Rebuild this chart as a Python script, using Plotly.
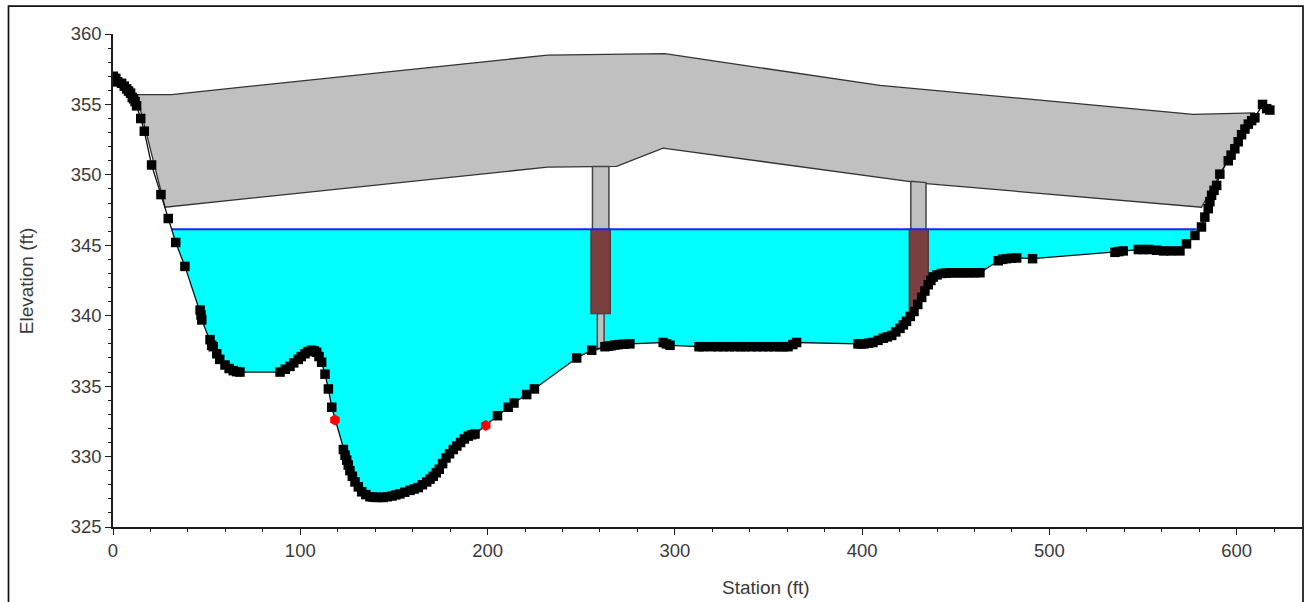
import plotly.graph_objects as go

ground_x = [0.2, 1.5, 2.5, 4.6, 6, 7.3, 8.3, 9.4, 10.3, 11, 11.8, 12.6, 14.8, 16.7, 20.6, 25.6, 29.5, 33.5, 38.4,
            46.5, 47, 47.4, 51.8, 52.7, 53.5, 55.4, 57, 59.8, 62, 64.2, 66, 67.8,
            89.2, 92, 94.5, 96.5, 98.9, 100.5, 102.5, 104, 106, 107.5, 108.8, 110, 111.4, 113.2, 115, 116.8,
            123, 123.9, 124.8, 125.6, 126.5, 127.8, 129.2, 131, 132.8, 135, 137.2, 139, 140.5, 142.4, 144.3, 146.5, 149,
            151, 153.2, 155.8, 158.6, 160.8, 163, 165.2, 167.5, 169.3, 171, 172.6, 174.2, 176, 177.8, 179.7, 181.7,
            183.6, 185.6, 187.6, 189.7, 191.5, 193.3, 205.3, 211, 214.1, 220.9, 225, 247.6, 255.6, 262.7, 264.5, 266, 268, 269.8, 273, 276,
            293.8, 295.5, 297.4, 312.9, 315, 319.6, 323, 326, 329, 332, 335.3, 337.5, 341, 344, 347, 350, 353, 356, 358, 360.4,
            363, 365, 397.8, 399.5, 401, 403.4, 405.8, 408.5, 411.3, 413.5, 415.8, 418, 420.2, 422, 423.7, 425.7, 427.7, 429.7, 431.8,
            433.5, 435.3, 436.7, 438, 440, 442.4, 445, 447.5, 450, 452.5, 455, 457.5, 460, 462.9,
            472.7, 475, 477.1, 479.8, 482.5, 491, 535, 537, 539.4, 547.5, 550.1, 553, 557.2, 561, 565, 569.7, 573.2, 577.7, 581.2, 583, 584.8,
            585.7, 586.6, 587.9, 589.3, 591, 595.5, 597, 599, 600.8, 602.6, 604.4, 606.2, 608, 609.7, 613.8, 616, 617.7]
ground_y = [357.0, 356.85, 356.6, 356.5, 356.3, 356.1, 355.95, 355.8, 355.5, 355.4, 355.2, 354.9, 354.0, 353.1, 350.7, 348.6, 346.9, 345.2, 343.5,
            340.4, 340.05, 339.7, 338.3, 337.9, 337.8, 337.3, 336.9, 336.5, 336.25, 336.1, 336.03, 336.0,
            336.0, 336.2, 336.4, 336.65, 336.9, 337.1, 337.3, 337.45, 337.55, 337.5, 337.4, 337.1, 336.7, 335.85, 334.8, 333.5,
            330.5, 330.1, 329.75, 329.4, 329.0, 328.6, 328.2, 327.85, 327.5, 327.3, 327.15, 327.12, 327.1, 327.1, 327.1, 327.15, 327.2,
            327.28, 327.35, 327.47, 327.6, 327.7, 327.8, 328.0, 328.2, 328.4, 328.6, 328.85, 329.1, 329.5, 329.9, 330.2, 330.5,
            330.75, 331.0, 331.25, 331.45, 331.55, 331.6, 332.9, 333.5, 333.8, 334.4, 334.8, 337.0, 337.55, 337.8, 337.83, 337.87, 337.92, 337.95, 337.98, 338.0,
            338.1, 338.0, 337.9, 337.8, 337.8, 337.8, 337.8, 337.8, 337.8, 337.8, 337.8, 337.8, 337.8, 337.8, 337.8, 337.8, 337.8, 337.8, 337.8, 337.8,
            337.95, 338.1, 338.0, 338.0, 338.0, 338.05, 338.1, 338.25, 338.4, 338.5, 338.6, 338.85, 339.1, 339.35, 339.6, 339.95, 340.3, 340.8, 341.3,
            341.75, 342.2, 342.5, 342.75, 342.9, 343.0, 343.02, 343.05, 343.05, 343.05, 343.05, 343.05, 343.05, 343.05,
            343.9, 344.0, 344.05, 344.08, 344.1, 344.05, 344.5, 344.55, 344.6, 344.7, 344.7, 344.7, 344.65, 344.6, 344.6, 344.6, 345.1, 345.7, 346.3, 347.0, 347.6,
            348.1, 348.55, 348.9, 349.25, 350.05, 351.0, 351.4, 351.85, 352.35, 352.85, 353.25, 353.6, 353.85, 354.05, 355.0, 354.7, 354.6]
bank_x = [118.5, 199]
bank_y = [332.6, 332.2]

deck_top_x = [12.6, 31.3, 232, 294.7, 409.5, 576.8, 609.7]
deck_top_y = [355.7, 355.7, 358.5, 358.6, 356.35, 354.3, 354.4]
deck_low_x = [581.2, 432.6, 293.7, 268.9, 232, 27.8]
deck_low_y = [347.7, 349.4, 351.9, 350.6, 350.55, 347.7]

water_elev = 346.13
water_x = [31.3, 578.6]

pier1_upper_x = [256, 264.8, 264.8, 256, 256]
pier1_upper_y = [350.6, 350.6, 346.1, 346.1, 350.6]
pier1_debris_x = [255.2, 265.5, 265.5, 255.2, 255.2]
pier1_debris_y = [346.13, 346.13, 340.15, 340.15, 346.13]
pier1_lower_x = [258.6, 262.2, 262.2, 258.6, 258.6]
pier1_lower_y = [340.15, 340.15, 337.8, 337.6, 340.15]
pier2_upper_x = [426, 434.1, 434.1, 426, 426]
pier2_upper_y = [349.55, 349.45, 346.1, 346.1, 349.55]
pier2_debris_x = [425.2, 435.3, 435.3, 431.8, 425.2, 425.2]
pier2_debris_y = [346.13, 346.13, 342.1, 341.2, 340.2, 346.13]

x_ticks = [0, 100, 200, 300, 400, 500, 600]
y_ticks = [325, 330, 335, 340, 345, 350, 355, 360]

FONT = "Liberation Sans, Arial, sans-serif"
TEXT = "#3a3a3a"
INK = "#1c1c1c"

fig = go.Figure()


def poly(x, y, fill, line="#444444", width=1.5):
    fig.add_trace(go.Scatter(x=x, y=y, mode="lines", fill="toself", fillcolor=fill,
                             line=dict(color=line, width=width), hoverinfo="skip", showlegend=False))


poly(deck_top_x + deck_low_x + deck_top_x[:1], deck_top_y + deck_low_y + deck_top_y[:1], "#C0C0C0", "#333333", 1.3)
poly(pier1_upper_x, pier1_upper_y, "#C0C0C0")
poly(pier2_upper_x, pier2_upper_y, "#C0C0C0")

wet = [(a, b) for a, b in zip(ground_x, ground_y) if water_x[0] < a < water_x[1] and b < water_elev]
poly([water_x[0]] + [p[0] for p in wet] + [water_x[1], water_x[0]],
     [water_elev] + [p[1] for p in wet] + [water_elev, water_elev], "#00FFFF", "rgba(0,0,0,0)", 0)

poly(pier1_lower_x, pier1_lower_y, "#C0C0C0")
poly(pier1_debris_x, pier1_debris_y, "#7C3F3F")
poly(pier2_debris_x, pier2_debris_y, "#7C3F3F")

fig.add_trace(go.Scatter(x=water_x, y=[water_elev, water_elev], mode="lines",
                         line=dict(color="#2222FF", width=2), hoverinfo="skip", showlegend=False))
fig.add_trace(go.Scatter(x=ground_x, y=ground_y, mode="lines+markers",
                         line=dict(color="#111111", width=1.3),
                         marker=dict(symbol="square", size=9.5, color="#000000"), showlegend=False))
fig.add_trace(go.Scatter(x=bank_x, y=bank_y, mode="markers",
                         marker=dict(symbol="hexagon", size=11, color="#FF0000"), showlegend=False))

axis = dict(showgrid=False, zeroline=False, showline=True, linecolor=INK, linewidth=1.5,
            ticks="outside", ticklen=6, tickwidth=1.3, tickcolor=INK,
            tickfont=dict(family=FONT, size=18.5, color=TEXT))
fig.update_xaxes(range=[0, 635.4], tickvals=x_ticks,
                 minor=dict(dtick=20, ticks="outside", ticklen=3.5, tickwidth=1.3, tickcolor=INK), **axis)
fig.update_yaxes(range=[325, 360], tickvals=y_ticks,
                 minor=dict(dtick=1, ticks="outside", ticklen=3.5, tickwidth=1.3, tickcolor=INK), **axis)

W, H, L, R, T, B = 1304, 602, 113, 1, 33.5, 75
pw, ph = W - L - R, H - T - B
fig.update_layout(width=W, height=H, margin=dict(l=L, r=R, t=T, b=B, pad=0, autoexpand=False),
                  paper_bgcolor="white", plot_bgcolor="white", showlegend=False,
                  shapes=[dict(type="rect", xref="paper", yref="paper", layer="above",
                               x0=(8.5 - L) / pw, x1=(1303 - L) / pw,
                               y0=(H - B - 700) / ph, y1=(H - B - 5.5) / ph,
                               line=dict(color="#111111", width=1.7), fillcolor="rgba(0,0,0,0)")],
                  annotations=[
                      dict(text="Station (ft)", xref="paper", yref="paper", showarrow=False,
                           x=(766 - L) / pw, y=(H - B - 588) / ph, xanchor="center", yanchor="middle",
                           font=dict(family=FONT, size=19, color=TEXT)),
                      dict(text="Elevation (ft)", xref="paper", yref="paper", showarrow=False, textangle=-90,
                           x=(26 - L) / pw, y=(H - B - 281) / ph, xanchor="center", yanchor="middle",
                           font=dict(family=FONT, size=19, color=TEXT)),
                  ])
fig.write_html("out.html", config=dict(displayModeBar=False),
               post_script="document.body.style.margin='0';document.documentElement.style.overflow='hidden';")
